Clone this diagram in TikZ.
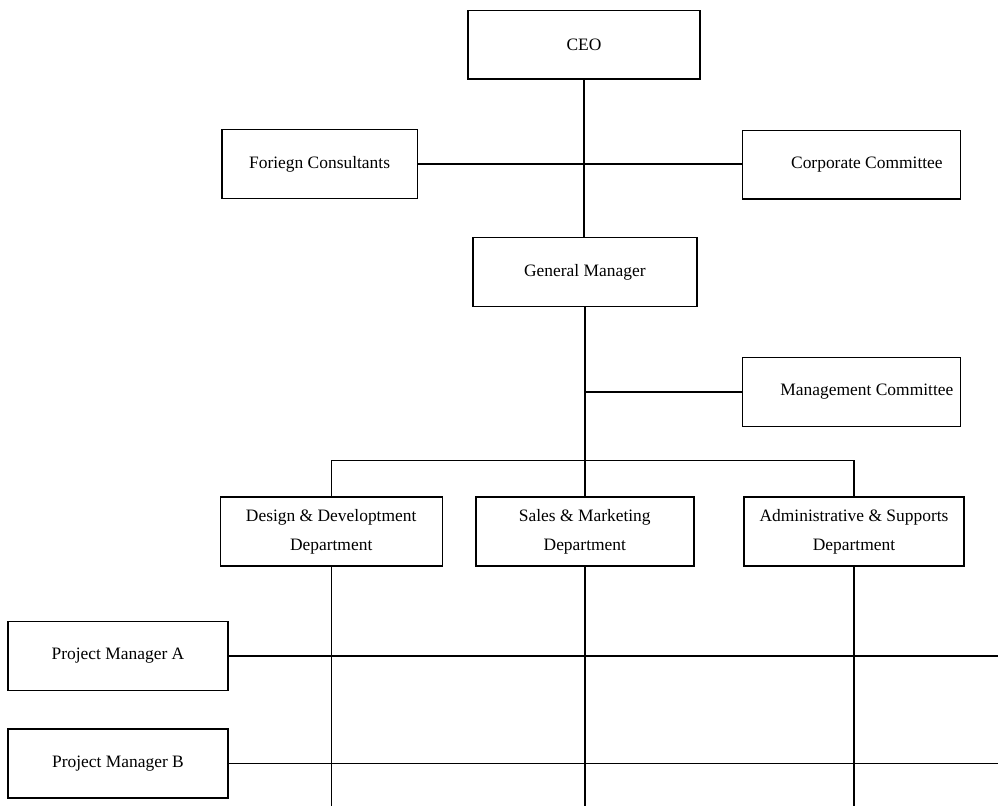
\documentclass[tikz,border=0pt]{standalone}
\usepackage{fontspec}
\setmainfont{Liberation Serif}
\usetikzlibrary{positioning}

\begin{document}
\begin{tikzpicture}[
  orgbox/.style={draw, line width=1pt, minimum height=1.72cm, inner xsep=2pt, align=center, font=\fontsize{12.4}{21}\selectfont},
  orgline/.style={line width=1pt}]
  \useasboundingbox (0,0) rectangle (24.95,20.15);
  \node[orgbox, minimum width=5.8cm] (ceo) at (14.60,19.03) {CEO};
  \node[orgbox, minimum width=4.88cm] (foreign) at (7.99,16.05) {Foriegn Consultants};
  \node[orgbox, minimum width=5.45cm] (corp) at (21.28,16.03) {\hspace*{1.8em}Corporate Committee};
  \node[orgbox, minimum width=5.6cm] (gm) at (14.62,13.35) {General Manager};
  \node[orgbox, minimum width=5.45cm] (mgmt) at (21.28,10.35) {\hspace*{1.8em}Management Committee};
  \node[orgbox, minimum width=5.55cm] (design) at (8.28,6.86) {Design \& Developtment\\Department};
  \node[orgbox, minimum width=5.45cm] (sales) at (14.62,6.86) {Sales \& Marketing\\Department};
  \node[orgbox, minimum width=5.5cm] (admin) at (21.35,6.86) {Administrative \& Supports\\Department};
  \node[orgbox, minimum width=5.5cm] (pma) at (2.95,3.75) {Project Manager A};
  \node[orgbox, minimum width=5.5cm] (pmb) at (2.95,1.06) {Project Manager B};

  \coordinate (bus) at (14.62,8.63);
  \coordinate (base) at (0,0);
  \coordinate (rim) at (24.95,0);

  \draw[orgline] (ceo.south) -- (ceo.south |- gm.north);
  \draw[orgline] (foreign.east) -- (foreign.east -| corp.west);
  \draw[orgline] (gm.south) -- (bus);
  \draw[orgline] (gm.south |- mgmt.west) -- (mgmt.west);
  \draw[orgline] (design.north) |- (bus) -| (admin.north);
  \draw[orgline] (bus) -- (sales.north);
  \draw[orgline] (design.south) -- (design.south |- base);
  \draw[orgline] (sales.south) -- (sales.south |- base);
  \draw[orgline] (admin.south) -- (admin.south |- base);
  \draw[orgline] (pma.east) -- (pma.east -| rim);
  \draw[orgline] (pmb.east) -- (pmb.east -| rim);
\end{tikzpicture}
\end{document}
